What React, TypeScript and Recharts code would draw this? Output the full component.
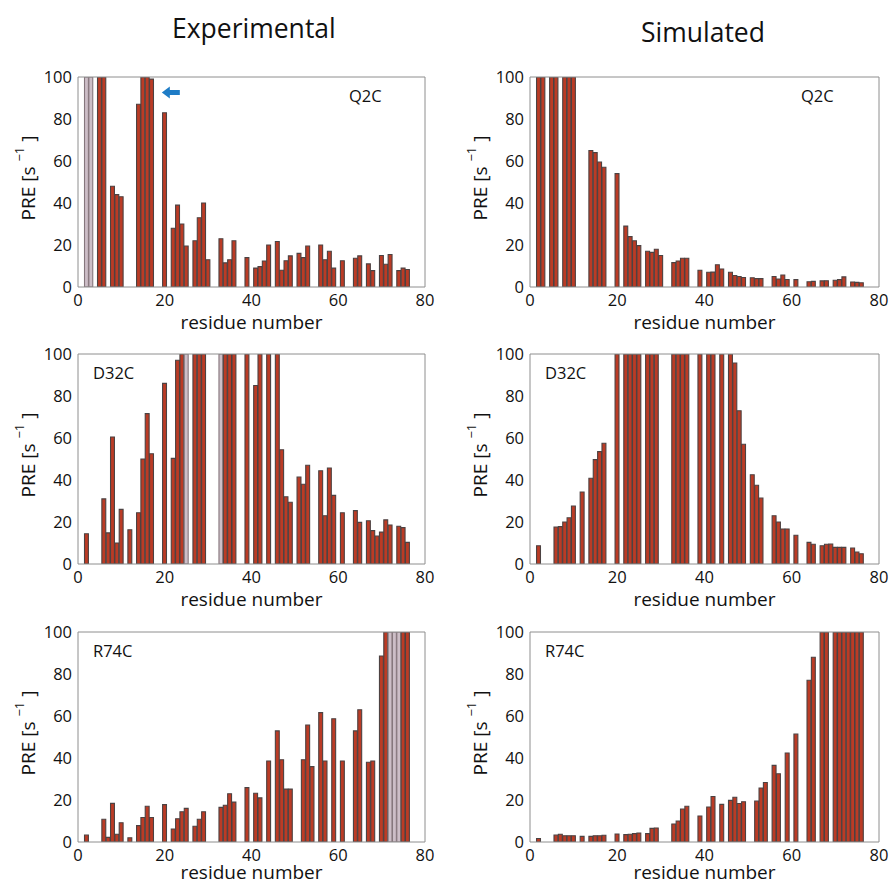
import { BarChart, Bar, XAxis, YAxis, Cell, Label, ReferenceDot } from 'recharts';

// ubiquitin residues with a resolved PRE, per spin-label site
const q2cResidues = [2, 3, 5, 6, 8, 9, 10, 14, 15, 16, 17, 20, 22, 23, 24, 25, 27, 28, 29, 30, 33, 34, 35, 36, 39, 41, 42, 43, 44, 46, 47, 48, 49, 51, 52, 53, 56, 57, 58, 59, 61, 64, 65, 67, 68, 70, 71, 72, 74, 75, 76];
const q2cExp = [100, 100, 100, 100, 48, 44, 43, 87, 100, 100, 99, 83, 28, 39, 30, 19.5, 22, 33, 40, 13, 23, 11.5, 13, 22, 14, 9, 9.7, 12.4, 20, 21.7, 8, 12.5, 14.8, 16, 14, 19.5, 20, 13, 17, 9, 12.5, 13.7, 14.8, 11, 7.8, 15, 10.8, 15.5, 7.8, 9, 8.3];
const q2cSim = [100, 100, 100, 100, 100, 100, 100, 65, 64, 59.5, 57, 54, 29, 24, 22, 19.7, 17, 16.5, 18, 15, 11.6, 12.4, 13.7, 13.7, 8, 7, 7.1, 10.6, 8.6, 7, 5.5, 5, 4.5, 4.4, 4, 4, 5, 3.8, 5.7, 3.6, 3.5, 2.5, 2.7, 2.9, 3, 3.2, 3.5, 4.8, 2.4, 2.2, 2];
const q2cBroadened = [2, 3];
const q2cArrow = { residue: 21.4, pre: 92.6 };

const d32cResidues = [2, 6, 7, 8, 9, 10, 12, 14, 15, 16, 17, 20, 22, 23, 24, 25, 27, 28, 29, 33, 34, 35, 36, 39, 41, 42, 44, 46, 47, 48, 49, 51, 52, 53, 56, 57, 58, 59, 61, 64, 65, 67, 68, 69, 70, 71, 72, 74, 75, 76];
const d32cExp = [14.4, 31, 14.8, 60.5, 10, 26, 16.3, 24.4, 50, 71.6, 52.5, 86, 50.3, 97, 100, 100, 100, 100, 100, 100, 100, 100, 100, 100, 85, 100, 100, 100, 54.4, 32, 29.4, 41.4, 38, 47, 44.4, 23, 45.7, 32.7, 24.4, 25.4, 19.8, 20.6, 15.9, 13.3, 15.2, 21, 18.6, 18, 17.3, 10.3];
const d32cSim = [8.7, 17.6, 17.8, 20, 22, 27.6, 34.3, 40.8, 49.7, 53.5, 57.5, 100, 100, 100, 100, 100, 100, 100, 100, 100, 100, 100, 100, 100, 100, 100, 100, 100, 95.7, 73, 57, 42.5, 37.5, 31.4, 23, 20, 16.7, 16.7, 13.7, 10.3, 9.4, 8.7, 9.4, 9.5, 7.9, 7.9, 7.9, 7.6, 5.7, 4.9];
const d32cBroadened = [25, 33];

const r74cResidues = [2, 6, 7, 8, 9, 10, 12, 14, 15, 16, 17, 20, 22, 23, 24, 25, 27, 28, 29, 33, 34, 35, 36, 39, 41, 42, 44, 46, 47, 48, 49, 52, 53, 54, 56, 57, 59, 61, 64, 65, 67, 68, 70, 71, 72, 73, 74, 75, 76];
const r74cExp = [3.3, 10.8, 2.2, 18.4, 3.7, 9.2, 2, 7.8, 11.7, 17, 11.7, 17.8, 6.2, 11.1, 14.4, 16, 7.5, 10.8, 14.4, 16.5, 17.5, 23, 19, 25.9, 23.2, 21, 38.6, 52.9, 39.2, 25.2, 25.2, 39.2, 55.7, 35.9, 61.6, 38.6, 58.7, 38.6, 52.9, 63, 38, 38.6, 88.6, 100, 100, 100, 100, 100, 100];
const r74cSim = [1.7, 3.3, 3.7, 3, 3, 3, 2.7, 2.7, 3, 3, 3.2, 3.8, 3.5, 3.7, 4, 4.3, 4, 6.5, 6.7, 8.6, 10, 15.7, 17, 12.4, 16.7, 21.7, 17.9, 19.8, 21.3, 18.3, 19.2, 19.5, 25.7, 28.3, 36.5, 32.5, 42.4, 51.4, 77, 88, 100, 100, 100, 100, 100, 100, 100, 100, 100];
const r74cBroadened = [72, 73, 74];

const xTicks = [0, 20, 40, 60, 80];
const yTicks = [0, 20, 40, 60, 80, 100];
const xMinorTicks = Array.from({ length: 41 }, (_, i) => i * 2);
const yMinorTicks = Array.from({ length: 26 }, (_, i) => i * 4);

const FONT = '"Open Sans", "Noto Sans", sans-serif';
const AXIS = '#8e8e8e';
const BAR_FILL = '#bb3b25';
const BAR_EDGE = '#4c4242';
const GRAY_FILL = '#cdbec7';
const GRAY_EDGE = '#86777d';
const ARROW = '#1e7cc6';

const PLOT_H = 210;
const MARGIN_T = 16;
const MARGIN_L = 38;
const YAXIS_W = 40;

function PreLabel({ viewBox }: any) {
  const x = viewBox.x - 10;
  const y = viewBox.y + viewBox.height / 2 - 4;
  return (
    <text x={x} y={y} transform={`rotate(-90 ${x} ${y})`} textAnchor="middle" dominantBaseline="central" fontSize={19} fontFamily={FONT} fill="#111">
      PRE  [s <tspan baselineShift="super" fontSize={13}>−1</tspan> ]
    </text>
  );
}

// left-pointing block arrow centred on the reference point
function ArrowShape({ cx, cy }: any) {
  const d = `M${cx - 9},${cy} L${cx - 1},${cy - 6} L${cx - 1},${cy - 2.5} L${cx + 9},${cy - 2.5} L${cx + 9},${cy + 2.5} L${cx - 1},${cy + 2.5} L${cx - 1},${cy + 6} Z`;
  return <path d={d} fill={ARROW} />;
}

// inward ticks on all four sides plus the top/right frame lines
function frameAxes() {
  const num = { type: 'number' as const, domain: [0, 80], allowDataOverflow: true, interval: 0 as const, tick: false, mirror: true };
  const numY = { type: 'number' as const, domain: [0, 100], allowDataOverflow: true, interval: 0 as const, tick: false, mirror: true };
  const line = { stroke: AXIS };
  return [
    <XAxis key="bM" xAxisId="bM" orientation="bottom" ticks={xTicks} tickSize={5} tickLine={line} axisLine={false} height={1} {...num} />,
    <XAxis key="bm" xAxisId="bm" orientation="bottom" ticks={xMinorTicks} tickSize={2.5} tickLine={line} axisLine={false} height={1} {...num} />,
    <XAxis key="tM" xAxisId="tM" orientation="top" ticks={xTicks} tickSize={5} tickLine={line} axisLine={line} height={1} {...num} />,
    <XAxis key="tm" xAxisId="tm" orientation="top" ticks={xMinorTicks} tickSize={2.5} tickLine={line} axisLine={false} height={1} {...num} />,
    <YAxis key="lM" yAxisId="lM" orientation="left" ticks={yTicks} tickSize={5} tickLine={line} axisLine={false} width={1} {...numY} />,
    <YAxis key="lm" yAxisId="lm" orientation="left" ticks={yMinorTicks} tickSize={2.5} tickLine={line} axisLine={false} width={1} {...numY} />,
    <YAxis key="rM" yAxisId="rM" orientation="right" ticks={yTicks} tickSize={5} tickLine={line} axisLine={line} width={1} {...numY} />,
    <YAxis key="rm" yAxisId="rm" orientation="right" ticks={yMinorTicks} tickSize={2.5} tickLine={line} axisLine={false} width={1} {...numY} />,
  ];
}

interface PanelProps {
  residues: number[];
  values: number[];
  broadened?: number[];
  arrow?: { residue: number; pre: number };
  tag: string;
  left: number;
  top: number;
  plotWidth: number;
  labelOffset?: number;
}

function PrePanel({ residues, values, broadened = [], arrow, tag, left, top, plotWidth, labelOffset = 8 }: PanelProps) {
  const data = residues.map((r, i) => ({ residue: r, pre: values[i] }));
  const width = MARGIN_L + YAXIS_W + plotWidth + 12;
  const tickStyle = { fill: '#111', fontSize: 16.5, fontFamily: FONT };
  const tagLeft = tag === 'Q2C' ? 349 : 93;
  return (
    <div style={{ position: 'absolute', left, top }}>
      <BarChart width={width} height={MARGIN_T + PLOT_H + 50} data={data} margin={{ top: MARGIN_T, right: 12, bottom: 0, left: MARGIN_L }} barCategoryGap={0}>
        <XAxis xAxisId="x" dataKey="residue" type="number" domain={[0, 80]} ticks={xTicks} interval={0} allowDataOverflow
          tickLine={false} axisLine={{ stroke: AXIS }} tick={tickStyle} tickSize={4} tickMargin={3} height={50}>
          <Label value="residue number" position="insideBottom" offset={labelOffset} style={{ fontSize: 19, fontFamily: FONT, fill: '#111' }} />
        </XAxis>
        <YAxis yAxisId="y" type="number" domain={[0, 100]} ticks={yTicks} interval={0} allowDataOverflow
          tickLine={false} axisLine={{ stroke: AXIS }} tick={tickStyle} tickSize={4} tickMargin={2} width={YAXIS_W}>
          <Label content={<PreLabel />} />
        </YAxis>
        {frameAxes()}
        <Bar xAxisId="x" yAxisId="y" dataKey="pre" barSize={plotWidth / 80} isAnimationActive={false} strokeWidth={1.1}>
          {data.map((d) => {
            const gray = broadened.includes(d.residue);
            return <Cell key={d.residue} fill={gray ? GRAY_FILL : BAR_FILL} stroke={gray ? GRAY_EDGE : BAR_EDGE} />;
          })}
        </Bar>
        {arrow && (
          <ReferenceDot xAxisId="x" yAxisId="y" x={arrow.residue} y={arrow.pre} r={6} shape={<ArrowShape />} />
        )}
      </BarChart>
      <div style={{ position: 'absolute', left: tagLeft, top: MARGIN_T + 11, fontFamily: FONT, fontSize: 16.5, lineHeight: '16.5px', color: '#111' }}>
        {tag}
      </div>
    </div>
  );
}

export default function App() {
  const rows = [
    { tag: 'Q2C', exp: q2cExp, sim: q2cSim, residues: q2cResidues, broadened: q2cBroadened, arrow: q2cArrow, top: 77 - MARGIN_T, labelOffset: 8 },
    { tag: 'D32C', exp: d32cExp, sim: d32cSim, residues: d32cResidues, broadened: d32cBroadened, arrow: undefined, top: 354 - MARGIN_T, labelOffset: 8 },
    { tag: 'R74C', exp: r74cExp, sim: r74cSim, residues: r74cResidues, broadened: r74cBroadened, arrow: undefined, top: 632 - MARGIN_T, labelOffset: 13 },
  ];
  return (
    <div style={{ position: 'absolute', left: 0, top: 0, width: 891, height: 885, overflow: 'hidden', background: '#fff' }}>
      <div style={{ position: 'absolute', left: 172, top: 10, fontFamily: FONT, fontSize: 26.5, color: '#111' }}>Experimental</div>
      <div style={{ position: 'absolute', left: 641, top: 14, fontFamily: FONT, fontSize: 26.5, color: '#111' }}>Simulated</div>
      {rows.map((row) => (
        <div key={row.tag}>
          <PrePanel residues={row.residues} values={row.exp} broadened={row.broadened} arrow={row.arrow} tag={row.tag} left={0} top={row.top} plotWidth={347} labelOffset={row.labelOffset} />
          <PrePanel residues={row.residues} values={row.sim} tag={row.tag} left={452} top={row.top} plotWidth={349} labelOffset={row.labelOffset} />
        </div>
      ))}
    </div>
  );
}
